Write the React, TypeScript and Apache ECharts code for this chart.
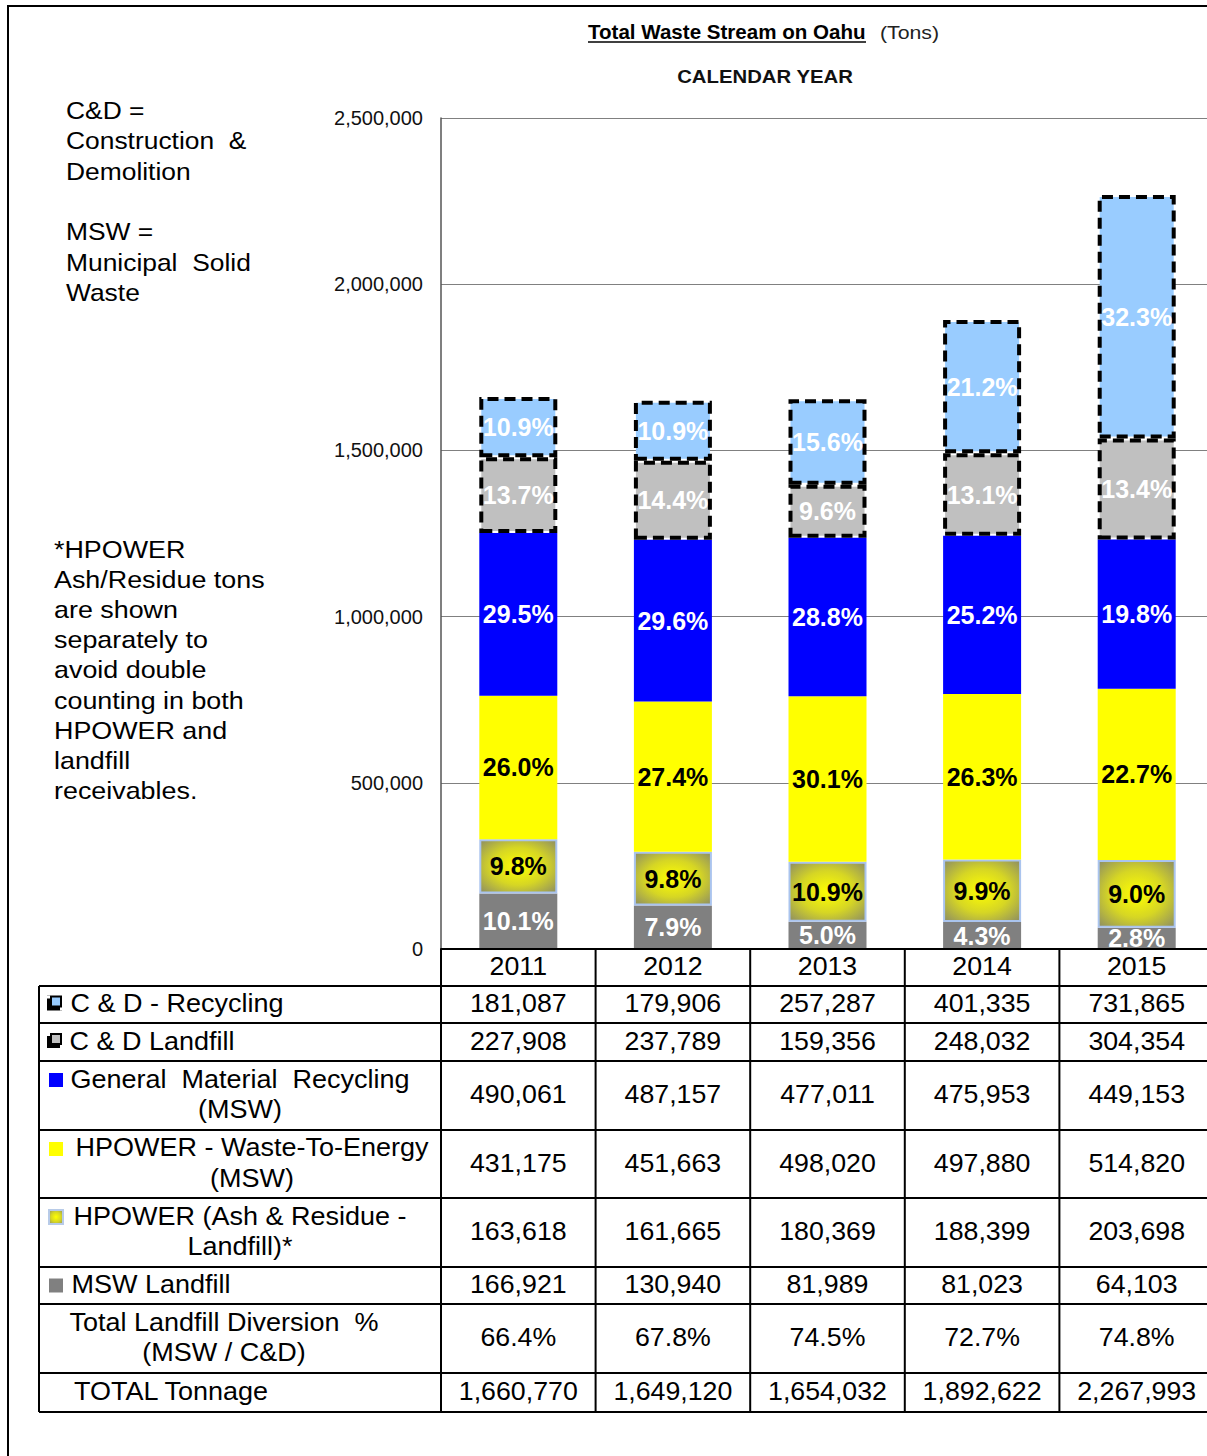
import React, { useEffect, useRef } from 'react';
import * as echarts from 'echarts';

const years = ['2011', '2012', '2013', '2014', '2015'];
const cdRecycling = [181087, 179906, 257287, 401335, 731865];
const cdLandfill = [227908, 237789, 159356, 248032, 304354];
const generalRecycling = [490061, 487157, 477011, 475953, 449153];
const hpowerWte = [431175, 451663, 498020, 497880, 514820];
const hpowerAsh = [163618, 161665, 180369, 188399, 203698];
const mswLandfill = [166921, 130940, 81989, 81023, 64103];
const diversion = ['66.4%', '67.8%', '74.5%', '72.7%', '74.8%'];
const totals = [1660770, 1649120, 1654032, 1892622, 2267993];

// percentage labels as printed on the bars
const pctCdRecycling = ['10.9%', '10.9%', '15.6%', '21.2%', '32.3%'];
const pctCdLandfill = ['13.7%', '14.4%', '9.6%', '13.1%', '13.4%'];
const pctGeneralRecycling = ['29.5%', '29.6%', '28.8%', '25.2%', '19.8%'];
const pctHpowerWte = ['26.0%', '27.4%', '30.1%', '26.3%', '22.7%'];
const pctHpowerAsh = ['9.8%', '9.8%', '10.9%', '9.9%', '9.0%'];
const pctMswLandfill = ['10.1%', '7.9%', '5.0%', '4.3%', '2.8%'];

const rowLabels = [
  'C & D - Recycling',
  'C & D Landfill',
  'General  Material  Recycling\n(MSW)',
  'HPOWER - Waste-To-Energy\n(MSW)',
  'HPOWER (Ash & Residue -\nLandfill)*',
  'MSW Landfill',
  'Total Landfill Diversion  %\n(MSW / C&D)',
  'TOTAL Tonnage',
];

const titleMain = 'Total Waste Stream on Oahu';
const titleUnit = '(Tons)';
const subTitle = 'CALENDAR YEAR';
const noteTop = 'C&D =\nConstruction  &\nDemolition\n\nMSW =\nMunicipal  Solid\nWaste';
const noteBottom =
  '*HPOWER\nAsh/Residue tons\nare shown\nseparately to\navoid double\ncounting in both\nHPOWER and\nlandfill\nreceivables.';

const FONT = '"Liberation Sans", Arial, Helvetica, sans-serif';
const fmt = (v: number) => v.toLocaleString('en-US');

export default function App() {
  const ref = useRef<HTMLDivElement>(null);

  useEffect(() => {
    if (!ref.current) return;
    const chart = echarts.init(ref.current, null, { renderer: 'svg' });

    const ashGradient = () =>
      new echarts.graphic.RadialGradient(0.5, 0.5, 0.72, [
        { offset: 0, color: '#ffff00' },
        { offset: 0.5, color: '#d6d624' },
        { offset: 1, color: '#8a8a66' },
      ]);

    const pctLabel = (color: string, texts: string[]) => ({
      show: true,
      position: 'inside',
      color,
      fontFamily: FONT,
      fontWeight: 'bold',
      fontSize: 25,
      formatter: (p: any) => texts[p.dataIndex],
    });

    const dash = { borderColor: '#000', borderWidth: 4, borderType: [11, 6] };
    const seriesDefs = [
      { name: 'MSW Landfill', data: mswLandfill, itemStyle: { color: '#808080' }, label: pctLabel('#ffffff', pctMswLandfill) },
      {
        name: 'HPOWER (Ash & Residue - Landfill)*',
        data: hpowerAsh,
        itemStyle: { color: ashGradient(), borderColor: '#aac4ee', borderWidth: 2 },
        label: pctLabel('#000000', pctHpowerAsh),
      },
      { name: 'HPOWER - Waste-To-Energy', data: hpowerWte, itemStyle: { color: '#ffff00' }, label: pctLabel('#000000', pctHpowerWte) },
      {
        name: 'General Material Recycling',
        data: generalRecycling,
        itemStyle: { color: '#0000ff' },
        label: pctLabel('#ffffff', pctGeneralRecycling),
      },
      { name: 'C & D Landfill', data: cdLandfill, itemStyle: { color: '#c0c0c0', ...dash }, label: pctLabel('#ffffff', pctCdLandfill) },
      { name: 'C & D - Recycling', data: cdRecycling, itemStyle: { color: '#99ccff', ...dash }, label: pctLabel('#ffffff', pctCdRecycling) },
    ];

    chart.setOption({
      animation: false,
      grid: { left: 441, top: 118, bottom: 507, right: 2, containLabel: false },
      xAxis: {
        type: 'category',
        data: years,
        axisLabel: { show: false },
        axisTick: { show: false },
        axisLine: { show: true, lineStyle: { color: '#000', width: 2 } },
      },
      yAxis: {
        type: 'value',
        min: 0,
        max: 2500000,
        interval: 500000,
        axisLine: { show: true, lineStyle: { color: '#555', width: 1.5 } },
        axisTick: { show: false },
        axisLabel: { fontFamily: FONT, fontSize: 20, color: '#111', margin: 18, formatter: (v: number) => fmt(v) },
        splitLine: { lineStyle: { color: '#808080', width: 1.2 } },
      },
      series: seriesDefs.map((s) => ({
        type: 'bar',
        stack: 'total',
        barWidth: 78,
        name: s.name,
        data: s.data,
        itemStyle: s.itemStyle,
        label: s.label,
      })),
    });

    // table & annotations
    const centers = years.map((_, i) => chart.convertToPixel({ xAxisIndex: 0 }, i) as number);
    const band = centers[1] - centers[0];
    const left = centers[0] - band / 2;
    const tableLeft = 39;
    const headerTop = 949;
    const rowHeights = [37, 38, 69, 68, 69, 37, 69, 39];
    const rowTops: number[] = [];
    let yy = 986;
    rowHeights.forEach((h) => {
      rowTops.push(yy);
      yy += h;
    });
    const tableBottom = yy;
    const rightEdge = left + band * years.length;

    const g: any[] = [];
    const line = (x1: number, y1: number, x2: number, y2: number, w = 2) =>
      g.push({ type: 'line', z: 100, shape: { x1, y1, x2, y2 }, style: { stroke: '#000', lineWidth: w } });
    const text = (t: string, x: number, y: number, extra: any = {}, sx = 1.07) =>
      g.push({
        type: 'text',
        z: 101,
        x,
        y,
        scaleX: sx,
        style: {
          text: t,
          fill: '#000',
          fontFamily: FONT,
          fontSize: 25,
          align: 'center',
          verticalAlign: 'middle',
          ...extra,
        },
      });
    const rect = (x: number, y: number, w: number, h: number, style: any) =>
      g.push({ type: 'rect', z: 101, shape: { x, y, width: w, height: h }, style });

    // outer frame
    g.push({ type: 'rect', z: 99, shape: { x: 8, y: 6, width: 1400, height: 1600 }, style: { fill: 'none', stroke: '#000', lineWidth: 2 } });

    // title
    text(titleMain, 588, 32, { align: 'left', fontSize: 19.5, fontWeight: 'bold' }, 1.055);
    line(588, 42, 866, 42, 1.6);
    text(titleUnit, 880, 32, { align: 'left', fontSize: 19, fill: '#222' }, 1.12);
    text(subTitle, 765, 76, { fontSize: 19, fill: '#111', fontWeight: 'bold' }, 1.07);

    // notes
    text(noteTop, 66, 95, { align: 'left', verticalAlign: 'top', fontSize: 24, lineHeight: 30.4 }, 1.1);
    text(noteBottom, 54, 534, { align: 'left', verticalAlign: 'top', fontSize: 24, lineHeight: 30.2 }, 1.12);

    // table grid
    line(left, headerTop, rightEdge, headerTop);
    rowTops.forEach((t) => line(tableLeft, t, rightEdge, t));
    line(tableLeft, tableBottom, rightEdge, tableBottom);
    line(tableLeft, rowTops[0], tableLeft, tableBottom);
    for (let i = 0; i <= years.length; i++) {
      const x = left + band * i;
      line(x, headerTop, x, tableBottom);
    }

    // header years
    years.forEach((yr, i) => text(yr, centers[i], (headerTop + rowTops[0]) / 2 - 1));

    // row values
    const rowValues: string[][] = [
      cdRecycling.map(fmt),
      cdLandfill.map(fmt),
      generalRecycling.map(fmt),
      hpowerWte.map(fmt),
      hpowerAsh.map(fmt),
      mswLandfill.map(fmt),
      diversion,
      totals.map(fmt),
    ];
    const labelCenters = [177, 152, 240, 252, 240, 151, 224, 171];
    rowValues.forEach((vals, r) => {
      const cy = rowTops[r] + rowHeights[r] / 2 - 1;
      vals.forEach((v, i) => text(v, centers[i], cy));
      text(rowLabels[r], labelCenters[r], cy, { lineHeight: 30.5 }, 1.08);
    });

    // legend keys
    const dashKey = (r: number, fill: string) => {
      const cy = rowTops[r] + rowHeights[r] / 2 - 1;
      rect(47, cy - 8, 15, 15, { fill: '#000' });
      rect(52, cy - 6, 8, 8, { fill });
      rect(47, cy - 8, 3, 3, { fill: '#fff' });
      rect(60, cy + 4, 2, 3, { fill: '#fff' });
    };
    const solidKey = (r: number, fill: any, stroke?: string) => {
      const cy = rowHeights[r] > 50 ? rowTops[r] + 19 : rowTops[r] + rowHeights[r] / 2;
      rect(49, cy - 7, 14, 14, { fill, stroke: stroke || 'none', lineWidth: stroke ? 2 : 0 });
    };
    dashKey(0, '#99ccff');
    dashKey(1, '#c0c0c0');
    solidKey(2, '#0000ff');
    solidKey(3, '#ffff00');
    solidKey(4, ashGradient(), '#b8cbe8');
    solidKey(5, '#808080');

    chart.setOption({ graphic: g });

    return () => chart.dispose();
  }, []);

  return (
    <div style={{ position: 'absolute', left: 0, top: 0, width: 1207, height: 1456, overflow: 'hidden', background: '#fff' }}>
      <div ref={ref} style={{ width: 1216, height: 1456 }} />
    </div>
  );
}
